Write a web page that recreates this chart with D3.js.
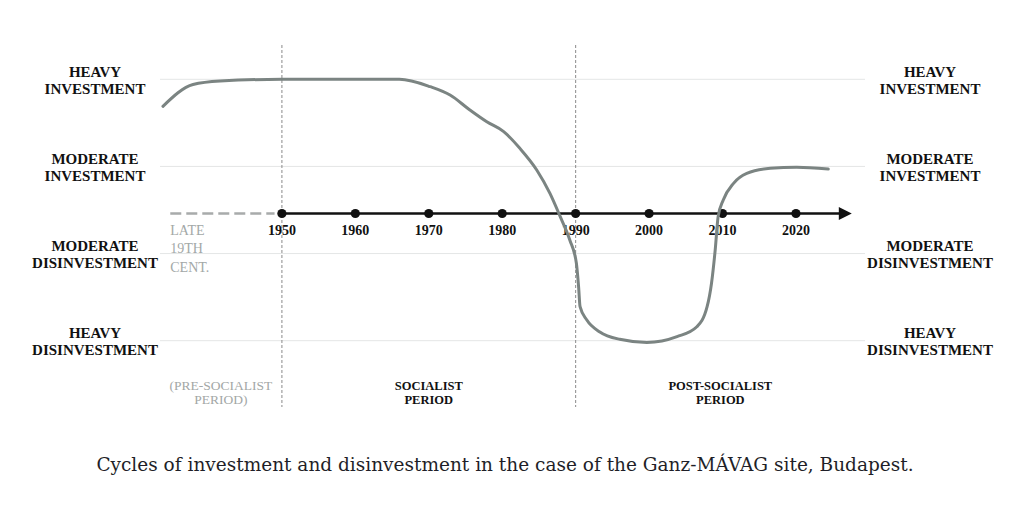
<!DOCTYPE html>
<html>
<head>
<meta charset="utf-8">
<script src="https://cdn.jsdelivr.net/npm/d3@7"></script>
<style>
  body { margin: 0; background: #fff; }
  text { font-family: "Liberation Serif", "DejaVu Serif", serif; }
  text.caption { font-family: "DejaVu Serif", serif; }
</style>
</head>
<body>
<div id="chart"></div>
<script>
/* Cycles of investment and disinvestment, Ganz-MAVAG site */

const width = 1028,
    height = 509,
    margin = ({ top: 45, right: 163, bottom: 102, left: 160 });

// investment levels (value on the y scale) and their two-line labels
const levels = [1.5, 0.5, -0.5, -1.5];
const levelLabels = [
    ["HEAVY", "INVESTMENT"],
    ["MODERATE", "INVESTMENT"],
    ["MODERATE", "DISINVESTMENT"],
    ["HEAVY", "DISINVESTMENT"]
];

// timeline ticks
const tickYears = [1950, 1960, 1970, 1980, 1990, 2000, 2010, 2020];
const timelineLevel = -0.04;
const timelineEnd = 2027.6;
const preTimeline = [1934.8, 1949];
const preLabel = ["LATE", "19TH", "CENT."];

// period boundaries and labels
const periodBreaks = [1950, 1990];
const periods = [
    { from: 1933.4, to: 1950, lines: ["(PRE-SOCIALIST", "PERIOD)"], muted: true },
    { from: 1950, to: 1990, lines: ["SOCIALIST", "PERIOD"], muted: false },
    { from: 1990, to: 2029.4, lines: ["POST-SOCIALIST", "PERIOD"], muted: false }
];

// investment curve
const curveYears = [1933.8, 1937.9, 1941.6, 1950, 1960, 1966, 1970.2, 1972.9, 1975.6, 1977.9,
    1980.2, 1982.4, 1984.7, 1986.5, 1987.9, 1989.2, 1990.1, 1990.4, 1990.6, 1991.5,
    1993.3, 1996.0, 1999.7, 2003.8, 2006.5, 2007.9, 2008.5, 2009.0, 2009.4, 2010.1,
    2011.5, 2013.3, 2016.5, 2020.1, 2024.4];
const curveValues = [1.19, 1.44, 1.48, 1.5, 1.5, 1.5, 1.415, 1.32, 1.148, 1.013,
    0.90, 0.708, 0.459, 0.19, -0.077, -0.344, -0.612, -0.88, -1.11, -1.26,
    -1.40, -1.484, -1.52, -1.454, -1.34, -1.11, -0.84, -0.46, -0.077, 0.115,
    0.306, 0.42, 0.478, 0.49, 0.47];

const caption = "Cycles of investment and disinvestment in the case of the Ganz-MÁVAG site, Budapest.";

const svg = d3.select("#chart")
    .append("svg")
    .attr("width", width)
    .attr("height", height)
    .attr("viewBox", [0, 0, width, height]);

let x = d3.scaleLinear()
    .domain([1933.4, 2029.4])
    .range([margin.left, width - margin.right]);

let y = d3.scaleLinear()
    .domain([-1.5, 1.5])
    .range([340.7, 79.3]);

// horizontal gridlines
svg.append("g")
    .selectAll("line")
    .data(levels)
    .join("line")
    .attr("x1", x.range()[0])
    .attr("x2", x.range()[1])
    .attr("y1", d => y(d))
    .attr("y2", d => y(d))
    .attr("stroke", "#e4e6e6")
    .attr("stroke-width", 1);

// level labels, left and right
[95, 930].forEach(cx => {
    const g = svg.append("g");
    levels.forEach((lv, i) => {
        g.append("text")
            .attr("x", cx)
            .attr("y", y(lv) - 2.8)
            .attr("text-anchor", "middle")
            .attr("font-size", 15)
            .attr("font-weight", "bold")
            .attr("fill", "#111")
            .selectAll("tspan")
            .data(levelLabels[i])
            .join("tspan")
            .attr("x", cx)
            .attr("dy", (d, j) => j === 0 ? 0 : 17)
            .text(d => d);
    });
});

// period boundaries
svg.append("g")
    .selectAll("line")
    .data(periodBreaks)
    .join("line")
    .attr("x1", d => x(d))
    .attr("x2", d => x(d))
    .attr("y1", margin.top)
    .attr("y2", height - margin.bottom)
    .attr("stroke", "#8a8a8a")
    .attr("stroke-width", 1)
    .attr("stroke-dasharray", "3,2");

// period labels
periods.forEach(p => {
    svg.append("text")
        .attr("x", x((p.from + p.to) / 2))
        .attr("y", 389.5)
        .attr("text-anchor", "middle")
        .attr("font-size", p.muted ? 13.5 : 12.5)
        .attr("font-weight", p.muted ? "normal" : "bold")
        .attr("fill", p.muted ? "#a3a7a6" : "#111")
        .selectAll("tspan")
        .data(p.lines)
        .join("tspan")
        .attr("x", x((p.from + p.to) / 2))
        .attr("dy", (d, j) => j === 0 ? 0 : 14.7)
        .text(d => d);
});

// timeline: dashed lead-in, line, arrow, dots
svg.append("line")
    .attr("x1", x(preTimeline[0]))
    .attr("x2", x(preTimeline[1]))
    .attr("y1", y(timelineLevel))
    .attr("y2", y(timelineLevel))
    .attr("stroke", "#a8abab")
    .attr("stroke-width", 2.6)
    .attr("stroke-dasharray", "11,5");

svg.append("line")
    .attr("x1", x(tickYears[0]))
    .attr("x2", x(timelineEnd) - 8)
    .attr("y1", y(timelineLevel))
    .attr("y2", y(timelineLevel))
    .attr("stroke", "#111")
    .attr("stroke-width", 2.4);

const tipX = x(timelineEnd), tipY = y(timelineLevel);
svg.append("path")
    .attr("d", `M${tipX},${tipY}L${tipX - 13},${tipY - 6.5}L${tipX - 13},${tipY + 6.5}Z`)
    .attr("fill", "#111");

svg.append("g")
    .selectAll("circle")
    .data(tickYears)
    .join("circle")
    .attr("cx", d => x(d))
    .attr("cy", y(timelineLevel))
    .attr("r", 4.6)
    .attr("fill", "#111");

svg.append("g")
    .selectAll("text")
    .data(tickYears)
    .join("text")
    .attr("x", d => x(d))
    .attr("y", y(timelineLevel) + 21.5)
    .attr("text-anchor", "middle")
    .attr("font-size", 14)
    .attr("font-weight", "bold")
    .attr("fill", "#111")
    .text(d => d);

svg.append("text")
    .attr("x", x(preTimeline[0]))
    .attr("y", y(timelineLevel) + 21.5)
    .attr("font-size", 14)
    .attr("fill", "#a3a8a7")
    .selectAll("tspan")
    .data(preLabel)
    .join("tspan")
    .attr("x", x(preTimeline[0]))
    .attr("dy", (d, j) => j === 0 ? 0 : 18.5)
    .text(d => d);

// investment curve
let line = d3.line()
    .x((d, i) => x(curveYears[i]))
    .y(d => y(d))
    .curve(d3.curveMonotoneX);

svg.append("path")
    .datum(curveValues)
    .attr("d", line)
    .attr("fill", "none")
    .attr("stroke", "#7b8482")
    .attr("stroke-width", 3)
    .attr("stroke-linecap", "round");

// caption
svg.append("text")
    .attr("class", "caption")
    .attr("x", 505)
    .attr("y", 470.5)
    .attr("text-anchor", "middle")
    .attr("font-size", 18.5)
    .attr("fill", "#1f1f28")
    .text(caption);
</script>
</body>
</html>
